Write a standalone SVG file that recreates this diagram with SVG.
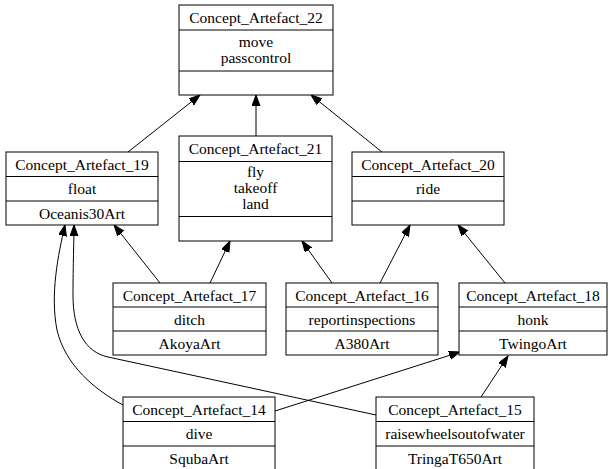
<svg xmlns="http://www.w3.org/2000/svg" width="609" height="469" viewBox="0 0 609 469">
<style>
.box{fill:#fff;stroke:#000;stroke-width:1}
.sep{stroke:#000;stroke-width:1}
text{font-family:"Liberation Serif","Times New Roman",serif;font-size:15.5px;fill:#000;text-anchor:middle}
.edge{fill:none;stroke:#000;stroke-width:1;marker-end:url(#arr)}
</style>
<defs>
<marker id="arr" markerWidth="12" markerHeight="9" refX="11" refY="4" orient="auto" markerUnits="userSpaceOnUse">
<path d="M0,0 L11,4 L0,8 z" fill="#000" stroke="#000" stroke-width="1"/>
</marker>
</defs>
<rect width="609" height="469" fill="#fff"/>
<g id="connectors">
<path class="edge" d="M128,152 L200,95"/>
<path class="edge" d="M256,136 L256,95"/>
<path class="edge" d="M382,152 L311,95"/>
<path class="edge" d="M160,283 L114,225"/>
<path class="edge" d="M210,283 L230,241"/>
<path class="edge" d="M332,283 L302,241"/>
<path class="edge" d="M380,283 L410,225"/>
<path class="edge" d="M505,283 L458,225"/>
<path class="edge" d="M123,405 C95,390 65,365 57,330 C50,295 58,255 65,225"/>
<path class="edge" d="M376,415 L108,357 C85,352 73,330 73,295 C73,265 74,240 74,225"/>
<path class="edge" d="M275,411 L460,352"/>
<path class="edge" d="M481,397 L508,356"/>
</g>
<g id="node22">
<rect class="box" x="179" y="5" width="154" height="90"/>
<line class="sep" x1="179" y1="30" x2="333" y2="30"/>
<line class="sep" x1="179" y1="71" x2="333" y2="71"/>
<text x="256" y="23">Concept_Artefact_22</text>
<text x="256" y="46.5">move</text>
<text x="256" y="63">passcontrol</text>
</g>
<g id="node19">
<rect class="box" x="6" y="152" width="152" height="73"/>
<line class="sep" x1="6" y1="176.5" x2="158" y2="176.5"/>
<line class="sep" x1="6" y1="201" x2="158" y2="201"/>
<text x="82" y="169.5">Concept_Artefact_19</text>
<text x="82" y="194">float</text>
<text x="82" y="218.5">Oceanis30Art</text>
</g>
<g id="node21">
<rect class="box" x="179" y="136" width="153" height="105"/>
<line class="sep" x1="179" y1="161.5" x2="332" y2="161.5"/>
<line class="sep" x1="179" y1="216.5" x2="332" y2="216.5"/>
<text x="255.5" y="154">Concept_Artefact_21</text>
<text x="255.5" y="176.5">fly</text>
<text x="255.5" y="192.5">takeoff</text>
<text x="255.5" y="208.5">land</text>
</g>
<g id="node20">
<rect class="box" x="352" y="152" width="152" height="73"/>
<line class="sep" x1="352" y1="176.5" x2="504" y2="176.5"/>
<line class="sep" x1="352" y1="201" x2="504" y2="201"/>
<text x="428" y="169.5">Concept_Artefact_20</text>
<text x="428" y="194">ride</text>
</g>
<g id="node17">
<rect class="box" x="113" y="283" width="153" height="72"/>
<line class="sep" x1="113" y1="307" x2="266" y2="307"/>
<line class="sep" x1="113" y1="331" x2="266" y2="331"/>
<text x="189.5" y="300.5">Concept_Artefact_17</text>
<text x="189.5" y="324.5">ditch</text>
<text x="189.5" y="348.5">AkoyaArt</text>
</g>
<g id="node16">
<rect class="box" x="286" y="283" width="152" height="72"/>
<line class="sep" x1="286" y1="307" x2="438" y2="307"/>
<line class="sep" x1="286" y1="331" x2="438" y2="331"/>
<text x="362" y="300.5">Concept_Artefact_16</text>
<text x="362" y="324.5">reportinspections</text>
<text x="362" y="348.5">A380Art</text>
</g>
<g id="node18">
<rect class="box" x="459" y="283" width="148" height="72"/>
<line class="sep" x1="459" y1="307" x2="607" y2="307"/>
<line class="sep" x1="459" y1="331" x2="607" y2="331"/>
<text x="533" y="300.5">Concept_Artefact_18</text>
<text x="533" y="324.5">honk</text>
<text x="533" y="348.5">TwingoArt</text>
</g>
<g id="node14">
<rect class="box" x="123" y="397" width="152" height="73"/>
<line class="sep" x1="123" y1="421.5" x2="275" y2="421.5"/>
<line class="sep" x1="123" y1="446" x2="275" y2="446"/>
<text x="199" y="414.5">Concept_Artefact_14</text>
<text x="199" y="439">dive</text>
<text x="199" y="463.5">SqubaArt</text>
</g>
<g id="node15">
<rect class="box" x="376" y="397" width="158" height="73"/>
<line class="sep" x1="376" y1="421.5" x2="534" y2="421.5"/>
<line class="sep" x1="376" y1="446" x2="534" y2="446"/>
<text x="455" y="414.5">Concept_Artefact_15</text>
<text x="455" y="439">raisewheelsoutofwater</text>
<text x="455" y="463.5">TringaT650Art</text>
</g>
</svg>
